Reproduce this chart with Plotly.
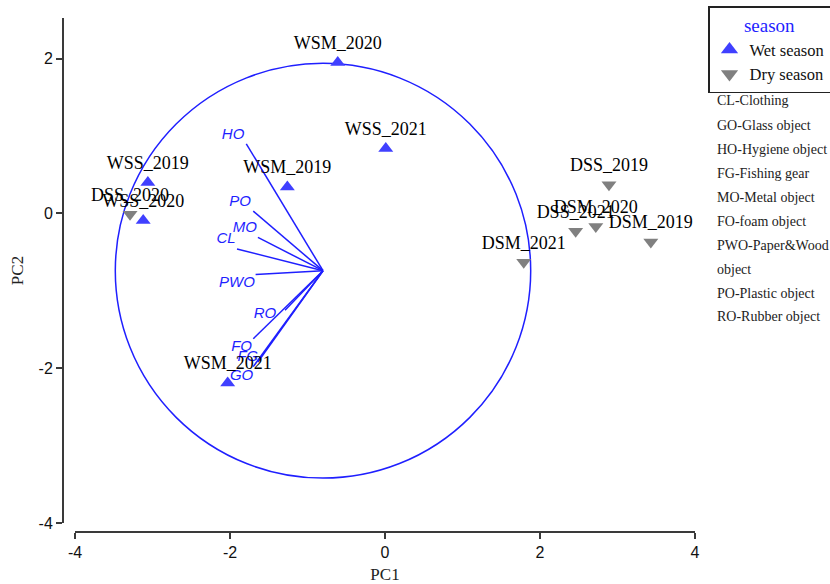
import plotly.graph_objects as go

# Sample scores (PC1, PC2)
wet_names = ["WSM_2020", "WSS_2021", "WSM_2019", "WSS_2019", "WSS_2020", "WSM_2021"]
wet_pc1 = [-0.61, 0.01, -1.26, -3.06, -3.12, -2.03]
wet_pc2 = [1.95, 0.84, 0.34, 0.40, -0.09, -2.19]

dry_names = ["DSS_2020", "DSS_2019", "DSM_2020", "DSS_2021", "DSM_2019", "DSM_2021"]
dry_pc1 = [-3.29, 2.89, 2.72, 2.46, 3.43, 1.79]
dry_pc2 = [-0.01, 0.37, -0.17, -0.23, -0.37, -0.63]

# Variable loadings (arrow ends) and their label positions
var_names = ["HO", "PO", "MO", "CL", "PWO", "RO", "FO", "FG", "GO"]
var_end_x = [-1.79, -1.70, -1.64, -1.91, -1.67, -1.29, -1.70, -1.64, -1.70]
var_end_y = [0.90, 0.03, -0.31, -0.46, -0.79, -1.25, -1.62, -1.92, -1.98]
var_lab_x = [-1.96, -1.87, -1.81, -2.05, -1.91, -1.55, -1.85, -1.77, -1.85]
var_lab_y = [1.01, 0.14, -0.19, -0.34, -0.90, -1.30, -1.73, -1.86, -2.11]

# Arrow origin and correlation circle
origin_x, origin_y = -0.80, -0.74
circle_r = 2.68

key_lines = ["CL-Clothing", "GO-Glass object", "HO-Hygiene object", "FG-Fishing gear",
             "MO-Metal object", "FO-foam object", "PWO-Paper&Wood", "object",
             "PO-Plastic object", "RO-Rubber object"]

x_ticks = [-4, -2, 0, 2, 4]
x_ticklabels = ["-4", "-2", "0", "2", "4"]
y_ticks = [-4, -2, 0, 2]
y_ticklabels = ["-4", "-2", "0", "2"]

BLUE = "#1f1fff"
WET = "#4040ff"
DRY = "#808080"
SERIF = "Liberation Serif, Times New Roman, serif"
SANS = "Liberation Sans, Arial, sans-serif"
AXC = "#3a3a3a"

fig = go.Figure()

# arrows
lx, ly = [], []
for ex, ey in zip(var_end_x, var_end_y):
    lx += [origin_x, ex, None]
    ly += [origin_y, ey, None]
fig.add_trace(go.Scatter(x=lx, y=ly, mode="lines", line=dict(color=BLUE, width=1.5),
                         showlegend=False, hoverinfo="skip"))
fig.add_trace(go.Scatter(x=var_lab_x, y=var_lab_y, mode="text", text=var_names,
                         textfont=dict(family=SANS, size=15, color=BLUE, style="italic"),
                         showlegend=False))

# points
fig.add_trace(go.Scatter(x=wet_pc1, y=wet_pc2, mode="markers+text", text=wet_names,
                         textposition="top center",
                         textfont=dict(family=SERIF, size=18, color="black"),
                         marker=dict(symbol="triangle-up", size=13, color=WET),
                         showlegend=False))
fig.add_trace(go.Scatter(x=dry_pc1, y=dry_pc2, mode="markers+text", text=dry_names,
                         textposition="top center",
                         textfont=dict(family=SERIF, size=18, color="black"),
                         marker=dict(symbol="triangle-down", size=13, color=DRY),
                         showlegend=False))
# legend entries
fig.add_trace(go.Scatter(x=[None], y=[None], mode="markers", name="Wet season",
                         marker=dict(symbol="triangle-up", size=15, color=WET)))
fig.add_trace(go.Scatter(x=[None], y=[None], mode="markers", name="Dry season",
                         marker=dict(symbol="triangle-down", size=15, color=DRY)))

fig.add_shape(type="circle", xref="x", yref="y",
              x0=origin_x - circle_r, x1=origin_x + circle_r,
              y0=origin_y - circle_r, y1=origin_y + circle_r,
              line=dict(color=BLUE, width=1.5), layer="below")

# margins / geometry
ML, MR, MT, MB = 63, 135, 18, 52
W, H = 830, 584
pw = W - ML - MR
ph = H - MT - MB

for i, t in enumerate(key_lines):
    fig.add_annotation(text=t, xref="paper", yref="paper",
                       x=(715 - ML) / pw, y=(H - MB - 101 - 24.0 * i) / ph,
                       xanchor="left", yanchor="middle", showarrow=False,
                       font=dict(family=SERIF, size=14, color="#222"))

fig.update_layout(
    width=W, height=H,
    margin=dict(l=ML, r=MR, t=MT, b=MB, autoexpand=False),
    plot_bgcolor="white", paper_bgcolor="white",
    xaxis=dict(range=[-4, 4], domain=[12 / pw, 1], anchor="free", position=0,
               tickvals=x_ticks, ticktext=x_ticklabels,
               ticks="outside", ticklen=6, tickwidth=1.5, tickcolor=AXC,
               showline=True, linecolor=AXC, linewidth=2, showgrid=False, zeroline=False,
               tickfont=dict(family=SANS, size=16, color="#111"),
               title=dict(text="PC1", font=dict(family=SERIF, size=17, color="#222"), standoff=10)),
    yaxis=dict(range=[-4, 2.525], domain=[9 / ph, 1], anchor="free", position=0,
               tickvals=y_ticks, ticktext=y_ticklabels,
               ticks="outside", ticklen=6, tickwidth=1.5, tickcolor=AXC,
               showline=True, linecolor=AXC, linewidth=2, showgrid=False, zeroline=False,
               tickfont=dict(family=SANS, size=16, color="#111"),
               title=dict(text="PC2", font=dict(family=SERIF, size=17, color="#222"), standoff=10)),
    legend=dict(x=(708 - ML) / pw, y=(H - MB - 6) / ph, xanchor="left", yanchor="top",
                bordercolor="#222", borderwidth=1.5, bgcolor="white",
                font=dict(family=SERIF, size=16.5, color="#111"),
                title=dict(text="season", side="top center",
                           font=dict(family=SERIF, size=19, color=BLUE)),
                itemwidth=30, tracegroupgap=0),
    showlegend=True,
)

fig.write_html("out.html")
